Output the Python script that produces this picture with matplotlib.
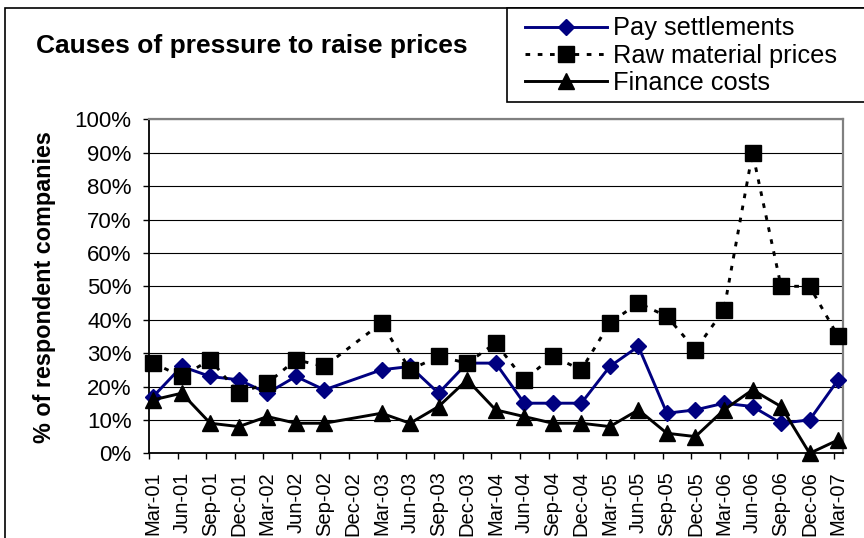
import matplotlib.pyplot as plt
from matplotlib.patches import Rectangle
from matplotlib.ticker import FixedLocator, PercentFormatter

plt.rcParams['font.family'] = ['Liberation Sans', 'DejaVu Sans']

quarters = ['Mar-01', 'Jun-01', 'Sep-01', 'Dec-01', 'Mar-02', 'Jun-02', 'Sep-02', 'Dec-02',
            'Mar-03', 'Jun-03', 'Sep-03', 'Dec-03', 'Mar-04', 'Jun-04', 'Sep-04', 'Dec-04',
            'Mar-05', 'Jun-05', 'Sep-05', 'Dec-05', 'Mar-06', 'Jun-06', 'Sep-06', 'Dec-06', 'Mar-07']

# None = no survey that quarter (Dec-02)
pay_settlements = [17, 26, 23, 22, 18, 23, 19, None, 25, 26, 18, 27, 27, 15, 15, 15,
                   26, 32, 12, 13, 15, 14, 9, 10, 22]
raw_material = [27, 23, 28, 18, 21, 28, 26, None, 39, 25, 29, 27, 33, 22, 29, 25,
                39, 45, 41, 31, 43, 90, 50, 50, 35]
finance_costs = [16, 18, 9, 8, 11, 9, 9, None, 12, 9, 14, 22, 13, 11, 9, 9,
                 8, 13, 6, 5, 13, 19, 14, 0, 4]


def points(values):
    xs = [i for i, v in enumerate(values) if v is not None]
    ys = [v for v in values if v is not None]
    return xs, ys


W, H = 864, 538
fig = plt.figure(figsize=(W / 100, H / 100), dpi=100)

# axes box in pixels: left 149, right 843, top 119, bottom 453
ax = fig.add_axes([149 / W, 1 - 453.3 / H, (843 - 149) / W, (453.3 - 119.3) / H])

x, y = points(pay_settlements)
ax.plot(x, y, color='#000080', lw=2.1, marker='D', ms=8.5, mfc='#000080', mec='#000080',
        label='Pay settlements', zorder=3, clip_on=False)
x, y = points(raw_material)
ax.plot(x, y, color='black', lw=2.1, dashes=(1.6, 2.6), marker='s', ms=11, mfc='black',
        mec='black', label='Raw material prices', zorder=4, clip_on=False)
x, y = points(finance_costs)
ax.plot(x, y, color='black', lw=2.1, marker='^', ms=11.5, mfc='black', mec='black',
        label='Finance costs', zorder=5, clip_on=False)

ax.set_xlim(-0.147, 24.17)
ax.set_ylim(0, 100)
ax.set_yticks(range(0, 101, 10))
ax.yaxis.set_major_formatter(PercentFormatter(decimals=0))
ax.grid(axis='y', color='black', lw=0.8)
ax.set_axisbelow(True)

ax.set_xticks(range(len(quarters)))
ax.set_xticklabels(quarters, rotation=90, fontsize=14.5)
ax.xaxis.set_minor_locator(FixedLocator([i - 0.147 for i in range(len(quarters))]))
ax.tick_params(axis='x', which='major', length=0, pad=13)
ax.tick_params(axis='x', which='minor', length=4.5, width=1, direction='out')
ax.tick_params(axis='y', labelsize=16, length=4.5, width=1, pad=8)

for side in ['left', 'bottom']:
    ax.spines[side].set_color('black')
    ax.spines[side].set_linewidth(1.3)
for side in ['top', 'right']:
    ax.spines[side].set_color('#808080')
    ax.spines[side].set_linewidth(1.6)

fig.text(36 / W, 1 - 53 / H, 'Causes of pressure to raise prices', fontsize=19,
         fontweight='bold', ha='left', va='baseline')
fig.text(45 / W, 1 - 287.5 / H, '% of respondent companies', fontsize=16.8,
         fontweight='bold', rotation=90, ha='center', va='center')

# outer chart border
fig.patches.append(Rectangle((5 / W, -0.1), 1.2, 1.1 - 8 / H, transform=fig.transFigure,
                             fill=False, ec='black', lw=1.2, zorder=0))

# legend box runs past the right edge of the picture
fig.patches.append(Rectangle((507 / W, 1 - 102 / H), 0.5, 94 / H, transform=fig.transFigure,
                             fc='white', ec='black', lw=1.2, zorder=1))
leg = fig.legend(loc='upper left', bbox_to_anchor=(525 / W, 1 - 16.5 / H), fontsize=18.3,
                 frameon=False, handlelength=3.22, handletextpad=0.24, labelspacing=0.12,
                 borderpad=0, borderaxespad=0)
leg.set_zorder(2)

fig.savefig('out.png', dpi=100)
